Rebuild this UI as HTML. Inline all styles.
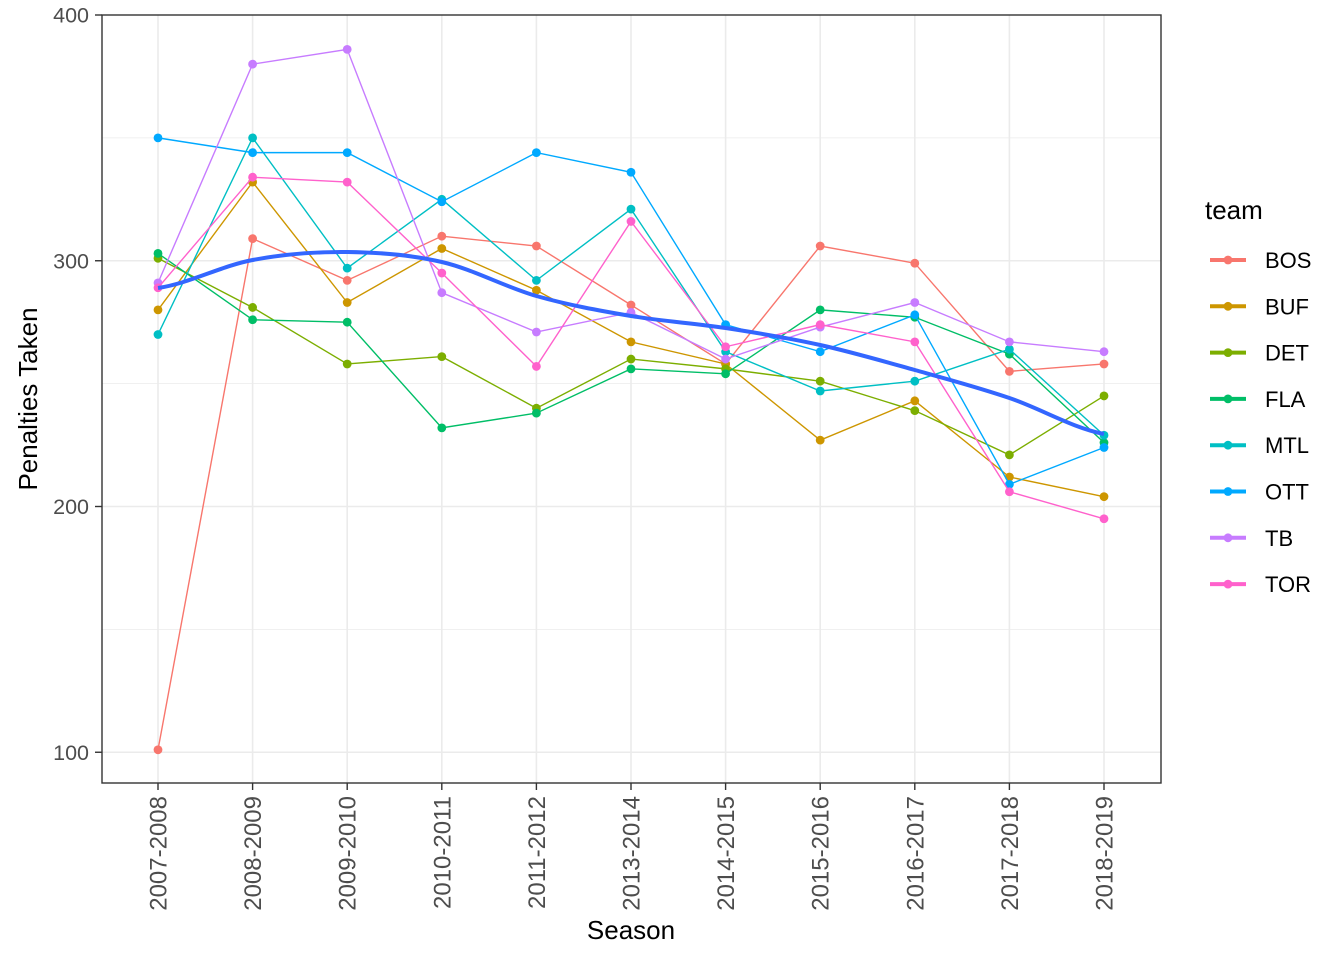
<!DOCTYPE html>
<html><head><meta charset="utf-8"><style>
html,body{margin:0;padding:0;background:#fff;}
svg{display:block;font-family:"Liberation Sans",Arial,sans-serif;}
</style></head><body>
<svg id="s" width="1344" height="960" xmlns="http://www.w3.org/2000/svg"></svg>
<script>
const s=document.getElementById('s');
const X=i=>158+i*94.6, Y=v=>15+(400-v)*2.4575;
let h='';
for(const v of [150,250,350]) h+=`<line x1="102" x2="1161" y1="${Y(v)}" y2="${Y(v)}" stroke="#EBEBEB" stroke-width="0.8"/>`;
for(const v of [100,200,300]) h+=`<line x1="102" x2="1161" y1="${Y(v)}" y2="${Y(v)}" stroke="#EBEBEB" stroke-width="1.6"/>`;
for(let i=0;i<11;i++) h+=`<line x1="${X(i)}" x2="${X(i)}" y1="15" y2="783" stroke="#EBEBEB" stroke-width="1.6"/>`;
const seasons=["2007-2008","2008-2009","2009-2010","2010-2011","2011-2012","2013-2014","2014-2015","2015-2016","2016-2017","2017-2018","2018-2019"];
const data={
BOS:["#F8766D",[101,309,292,310,306,282,258,306,299,255,258]],
BUF:["#CD9600",[280,332,283,305,288,267,258,227,243,212,204]],
DET:["#7CAE00",[301,281,258,261,240,260,256,251,239,221,245]],
FLA:["#00BE67",[303,276,275,232,238,256,254,280,277,262,226]],
MTL:["#00BFC4",[270,350,297,325,292,321,263,247,251,264,229]],
OTT:["#00A9FF",[350,344,344,324,344,336,274,263,278,209,224]],
TB:["#C77CFF",[291,380,386,287,271,279,260,273,283,267,263]],
TOR:["#FF61CC",[289,334,332,295,257,316,265,274,267,206,195]]};
for(const k in data){const [c,d]=data[k];
 h+=`<polyline fill="none" stroke="${c}" stroke-width="1.4" points="${d.map((v,i)=>X(i)+','+Y(v)).join(' ')}"/>`;
 d.forEach((v,i)=>h+=`<circle cx="${X(i)}" cy="${Y(v)}" r="4.4" fill="${c}"/>`);}
const sm=[288,260,252,262,296,316,328,345,370,398,434];
let p=`M${X(0)},${sm[0]}`;
for(let i=0;i<sm.length-1;i++){const p0=sm[Math.max(i-1,0)],p1=sm[i],p2=sm[i+1],p3=sm[Math.min(i+2,sm.length-1)];
 const x1=X(i),x2=X(i+1),dx=(x2-x1)/3;
 p+=` C${x1+dx},${p1+(p2-p0)/6} ${x2-dx},${p2-(p3-p1)/6} ${x2},${p2}`;}
h+=`<path d="${p}" fill="none" stroke="#3366FF" stroke-width="4"/>`;
h+=`<rect x="102" y="15" width="1059" height="768" fill="none" stroke="#333" stroke-width="1.4"/>`;
for(const v of [100,200,300,400]){h+=`<line x1="95" x2="102" y1="${Y(v)}" y2="${Y(v)}" stroke="#333" stroke-width="1.4"/>`;
 h+=`<text x="89" y="${Y(v)+7.5}" text-anchor="end" font-size="21.5" fill="#4D4D4D">${v}</text>`;}
seasons.forEach((t,i)=>{h+=`<line x1="${X(i)}" x2="${X(i)}" y1="783" y2="790" stroke="#333" stroke-width="1.4"/>`;
 h+=`<text transform="translate(${X(i)+8.5},796) rotate(-90)" text-anchor="end" font-size="24" fill="#4D4D4D">${t}</text>`;});
h+=`<text x="631" y="939" text-anchor="middle" font-size="26">Season</text>`;
h+=`<text transform="translate(37,399) rotate(-90)" text-anchor="middle" font-size="26">Penalties Taken</text>`;
h+=`<text x="1205" y="219" font-size="26">team</text>`;
Object.keys(data).forEach((k,i)=>{const y=260+i*46.3,c=data[k][0];
 h+=`<line x1="1210" x2="1246" y1="${y}" y2="${y}" stroke="${c}" stroke-width="4"/><circle cx="1228" cy="${y}" r="4.4" fill="${c}"/>`;
 h+=`<text x="1265" y="${y+8}" font-size="22">${k}</text>`;});
s.innerHTML=h;
</script>
</body></html>
